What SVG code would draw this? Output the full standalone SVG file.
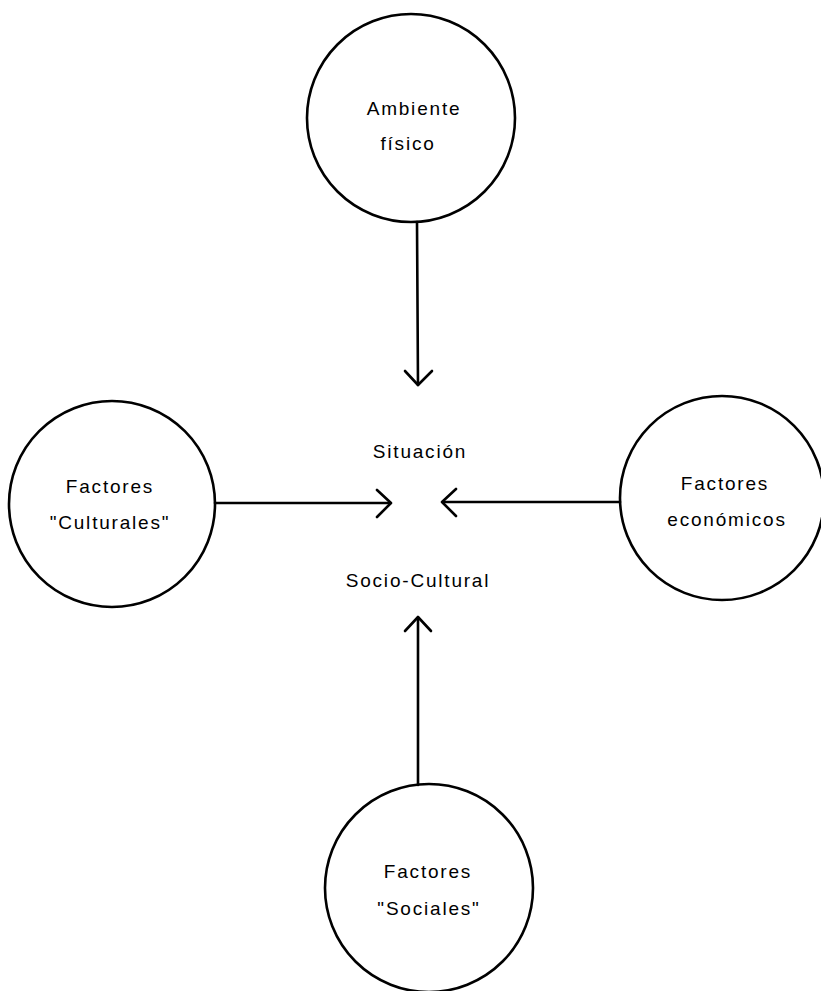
<svg xmlns="http://www.w3.org/2000/svg" width="821" height="991" viewBox="0 0 821 991">
<style>
.node circle{fill:none;stroke:#000;stroke-width:2.6}
text{font-family:"Liberation Sans","DejaVu Sans",sans-serif;font-size:19px;fill:#000;text-anchor:middle;letter-spacing:1.8px}
.conn line,.conn polyline{fill:none;stroke:#000;stroke-width:2.6;stroke-linecap:round;stroke-linejoin:round}
</style>
<rect width="821" height="991" fill="#fff"/>
<g id="ambiente" class="node">
<circle cx="411" cy="118" r="104"/>
<text x="414" y="115">Ambiente</text>
<text x="408" y="150">físico</text>
</g>
<g id="culturales" class="node">
<circle cx="112" cy="504" r="103"/>
<text x="110" y="493">Factores</text>
<text x="110" y="529">"Culturales"</text>
</g>
<g id="economicos" class="node">
<circle cx="722" cy="498" r="102"/>
<text x="725" y="490">Factores</text>
<text x="727" y="526">económicos</text>
</g>
<g id="sociales" class="node">
<circle cx="429" cy="888" r="104"/>
<text x="428" y="878">Factores</text>
<text x="429" y="915">"Sociales"</text>
</g>
<g id="situacion">
<text x="420" y="458">Situación</text>
<text x="418" y="587">Socio-Cultural</text>
</g>
<g class="conn" id="connectors">
<line x1="417" y1="222" x2="418" y2="385"/>
<polyline points="405,371 418,385 432,371"/>
<line x1="215" y1="503" x2="390" y2="503"/>
<polyline points="377,490 391,503 377,517"/>
<line x1="620" y1="502" x2="443" y2="502"/>
<polyline points="456,489 442,502 456,516"/>
<line x1="418" y1="785" x2="418" y2="618"/>
<polyline points="405,631 418,617 431,631"/>
</g>
</svg>
